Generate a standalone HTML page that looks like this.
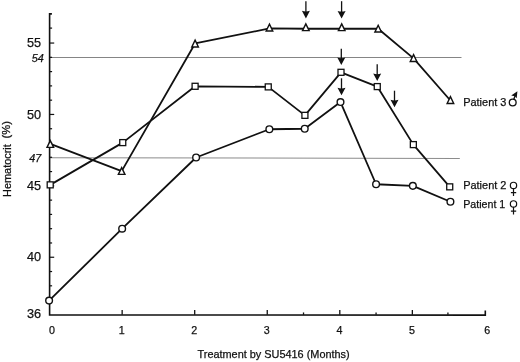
<!DOCTYPE html><html><head><meta charset="utf-8"><title>Hematocrit</title>
<style>html,body{margin:0;padding:0;background:#fff}svg{display:block}text{font-family:"Liberation Sans",sans-serif;fill:#111;stroke:#111;stroke-width:0.25px}</style></head><body>
<svg width="520" height="362" viewBox="0 0 520 362">
<rect width="520" height="362" fill="#fff"/>
<line x1="49.6" y1="57.4" x2="461.5" y2="57.55" stroke="#858585" stroke-width="1.05"/>
<line x1="49.6" y1="157.75" x2="459.8" y2="158.4" stroke="#8c8c8c" stroke-width="1.05"/>
<path d="M51.9 13.9H49.6V314.85L485.3 315.15V310.4" fill="none" stroke="#111" stroke-width="1.6"/>
<line x1="49.6" y1="300.09" x2="52.1" y2="300.09" stroke="#111" stroke-width="1.2"/>
<line x1="49.6" y1="285.81" x2="52.1" y2="285.81" stroke="#111" stroke-width="1.2"/>
<line x1="49.6" y1="271.53" x2="52.1" y2="271.53" stroke="#111" stroke-width="1.2"/>
<line x1="49.6" y1="257.25" x2="54.2" y2="257.25" stroke="#111" stroke-width="1.2"/>
<line x1="49.6" y1="242.97" x2="52.1" y2="242.97" stroke="#111" stroke-width="1.2"/>
<line x1="49.6" y1="228.69" x2="52.1" y2="228.69" stroke="#111" stroke-width="1.2"/>
<line x1="49.6" y1="214.41" x2="52.1" y2="214.41" stroke="#111" stroke-width="1.2"/>
<line x1="49.6" y1="200.13" x2="52.1" y2="200.13" stroke="#111" stroke-width="1.2"/>
<line x1="49.6" y1="185.85" x2="54.2" y2="185.85" stroke="#111" stroke-width="1.2"/>
<line x1="49.6" y1="171.57" x2="52.1" y2="171.57" stroke="#111" stroke-width="1.2"/>
<line x1="49.6" y1="157.29" x2="52.1" y2="157.29" stroke="#111" stroke-width="1.2"/>
<line x1="49.6" y1="143.01" x2="52.1" y2="143.01" stroke="#111" stroke-width="1.2"/>
<line x1="49.6" y1="128.73" x2="52.1" y2="128.73" stroke="#111" stroke-width="1.2"/>
<line x1="49.6" y1="114.45" x2="54.2" y2="114.45" stroke="#111" stroke-width="1.2"/>
<line x1="49.6" y1="100.17" x2="52.1" y2="100.17" stroke="#111" stroke-width="1.2"/>
<line x1="49.6" y1="85.89" x2="52.1" y2="85.89" stroke="#111" stroke-width="1.2"/>
<line x1="49.6" y1="71.61" x2="52.1" y2="71.61" stroke="#111" stroke-width="1.2"/>
<line x1="49.6" y1="57.33" x2="52.1" y2="57.33" stroke="#111" stroke-width="1.2"/>
<line x1="49.6" y1="43.05" x2="54.2" y2="43.05" stroke="#111" stroke-width="1.2"/>
<line x1="49.6" y1="28.1" x2="52.1" y2="28.1" stroke="#111" stroke-width="1.2"/>
<line x1="122.15" y1="314.85" x2="122.15" y2="310.05" stroke="#111" stroke-width="1.3"/>
<line x1="194.7" y1="314.85" x2="194.7" y2="310.05" stroke="#111" stroke-width="1.3"/>
<line x1="267.25" y1="314.85" x2="267.25" y2="310.05" stroke="#111" stroke-width="1.3"/>
<line x1="303.52" y1="314.85" x2="303.52" y2="312.45" stroke="#111" stroke-width="1.3"/>
<line x1="339.8" y1="314.85" x2="339.8" y2="310.05" stroke="#111" stroke-width="1.3"/>
<line x1="376.07" y1="314.85" x2="376.07" y2="312.45" stroke="#111" stroke-width="1.3"/>
<line x1="412.35" y1="314.85" x2="412.35" y2="310.05" stroke="#111" stroke-width="1.3"/>
<line x1="447.92" y1="314.85" x2="447.92" y2="312.45" stroke="#111" stroke-width="1.3"/>
<polyline points="50.3,143.81 121.65,171.17 195.1,43.45 269.45,28.47 305.82,28.77 341.7,28.77 378.17,28.77 413.55,58.33 450.42,100.47" fill="none" stroke="#111" stroke-width="1.8" stroke-linejoin="round"/>
<polyline points="50.2,184.85 122.75,142.61 195.1,86.29 268.25,86.89 304.92,115.35 341.0,72.31 377.27,86.59 413.35,144.61 449.72,186.85" fill="none" stroke="#111" stroke-width="1.8" stroke-linejoin="round"/>
<polyline points="49.1,300.59 122.15,228.69 196.1,157.49 269.35,129.23 304.72,128.73 340.5,102.07 376.07,184.25 412.85,185.85 450.42,201.73" fill="none" stroke="#111" stroke-width="1.8" stroke-linejoin="round"/>
<path d="M50.3 140.61L53.6 147.41H47.0Z" fill="#fff" stroke="#111" stroke-width="1.4"/>
<path d="M121.65 167.57L124.95 174.37H118.35Z" fill="#fff" stroke="#111" stroke-width="1.4"/>
<path d="M195.1 40.15L198.4 46.95H191.8Z" fill="#fff" stroke="#111" stroke-width="1.4"/>
<path d="M269.45 24.17L272.75 30.97H266.15Z" fill="#fff" stroke="#111" stroke-width="1.4"/>
<path d="M305.82 23.87L309.12 30.67H302.52Z" fill="#fff" stroke="#111" stroke-width="1.4"/>
<path d="M341.7 23.87L345.0 30.67H338.4Z" fill="#fff" stroke="#111" stroke-width="1.4"/>
<path d="M378.17 25.27L381.47 32.07H374.87Z" fill="#fff" stroke="#111" stroke-width="1.4"/>
<path d="M413.55 54.63L416.85 61.43H410.25Z" fill="#fff" stroke="#111" stroke-width="1.4"/>
<path d="M450.42 96.67L453.72 103.47H447.12Z" fill="#fff" stroke="#111" stroke-width="1.4"/>
<rect x="47.2" y="181.85" width="6" height="6" fill="#fff" stroke="#111" stroke-width="1.3"/>
<rect x="119.75" y="139.61" width="6" height="6" fill="#fff" stroke="#111" stroke-width="1.3"/>
<rect x="192.1" y="83.29" width="6" height="6" fill="#fff" stroke="#111" stroke-width="1.3"/>
<rect x="265.25" y="83.89" width="6" height="6" fill="#fff" stroke="#111" stroke-width="1.3"/>
<rect x="301.92" y="112.35" width="6" height="6" fill="#fff" stroke="#111" stroke-width="1.3"/>
<rect x="338.0" y="69.31" width="6" height="6" fill="#fff" stroke="#111" stroke-width="1.3"/>
<rect x="374.27" y="83.59" width="6" height="6" fill="#fff" stroke="#111" stroke-width="1.3"/>
<rect x="410.35" y="141.61" width="6" height="6" fill="#fff" stroke="#111" stroke-width="1.3"/>
<rect x="446.72" y="183.85" width="6" height="6" fill="#fff" stroke="#111" stroke-width="1.3"/>
<circle cx="49.1" cy="300.59" r="3.35" fill="#fff" stroke="#111" stroke-width="1.4"/>
<circle cx="122.15" cy="228.69" r="3.35" fill="#fff" stroke="#111" stroke-width="1.4"/>
<circle cx="196.1" cy="157.49" r="3.35" fill="#fff" stroke="#111" stroke-width="1.4"/>
<circle cx="269.35" cy="129.23" r="3.35" fill="#fff" stroke="#111" stroke-width="1.4"/>
<circle cx="304.72" cy="128.73" r="3.35" fill="#fff" stroke="#111" stroke-width="1.4"/>
<circle cx="340.5" cy="102.07" r="3.35" fill="#fff" stroke="#111" stroke-width="1.4"/>
<circle cx="376.07" cy="184.25" r="3.35" fill="#fff" stroke="#111" stroke-width="1.4"/>
<circle cx="412.85" cy="185.85" r="3.35" fill="#fff" stroke="#111" stroke-width="1.4"/>
<circle cx="450.42" cy="201.73" r="3.35" fill="#fff" stroke="#111" stroke-width="1.4"/>
<path d="M305.9 1.2V13.100000000000001" stroke="#111" stroke-width="1.3" fill="none"/>
<path d="M301.9 10.8L305.9 18.4L309.9 10.8Q305.9 12.2 301.9 10.8Z" fill="#111"/>
<path d="M341.6 1.2V13.2" stroke="#111" stroke-width="1.3" fill="none"/>
<path d="M337.6 10.9L341.6 18.5L345.6 10.9Q341.6 12.3 337.6 10.9Z" fill="#111"/>
<path d="M341.3 48.7V59.8" stroke="#111" stroke-width="1.3" fill="none"/>
<path d="M337.3 57.5L341.3 65.1L345.3 57.5Q341.3 58.9 337.3 57.5Z" fill="#111"/>
<path d="M341.5 78.3V90" stroke="#111" stroke-width="1.3" fill="none"/>
<path d="M337.5 87.7L341.5 95.3L345.5 87.7Q341.5 89.1 337.5 87.7Z" fill="#111"/>
<path d="M377.2 64.3V75.8" stroke="#111" stroke-width="1.3" fill="none"/>
<path d="M373.2 73.5L377.2 81.1L381.2 73.5Q377.2 74.9 373.2 73.5Z" fill="#111"/>
<path d="M394.5 90.7V102" stroke="#111" stroke-width="1.3" fill="none"/>
<path d="M390.5 99.7L394.5 107.3L398.5 99.7Q394.5 101.1 390.5 99.7Z" fill="#111"/>
<text x="41.1" y="47.4" font-size="12.7" text-anchor="end">55</text>
<text x="41.1" y="119.1" font-size="12.7" text-anchor="end">50</text>
<text x="41.1" y="190.2" font-size="12.7" text-anchor="end">45</text>
<text x="41.1" y="261.2" font-size="12.7" text-anchor="end">40</text>
<text x="41.1" y="317.8" font-size="12.7" text-anchor="end">36</text>
<text x="43.8" y="62" font-size="10.8" font-style="italic" text-anchor="end">54</text>
<text x="41.2" y="162.3" font-size="10.8" font-style="italic" text-anchor="end">47</text>
<text x="51.9" y="333.7" font-size="10.7" text-anchor="middle">0</text>
<text x="121.75" y="333.7" font-size="10.7" text-anchor="middle">1</text>
<text x="194.3" y="333.7" font-size="10.7" text-anchor="middle">2</text>
<text x="266.85" y="333.7" font-size="10.7" text-anchor="middle">3</text>
<text x="339.4" y="333.7" font-size="10.7" text-anchor="middle">4</text>
<text x="411.95" y="333.7" font-size="10.7" text-anchor="middle">5</text>
<text x="487.2" y="333.7" font-size="10.7" text-anchor="middle">6</text>
<text x="197.5" y="358.3" font-size="10.95" textLength="152.2" lengthAdjust="spacingAndGlyphs">Treatment by SU5416 (Months)</text>
<text transform="translate(10.6,197) rotate(-90)" font-size="11" textLength="52.8" lengthAdjust="spacingAndGlyphs">Hematocrit</text>
<text transform="translate(10.4,138.4) rotate(-90)" font-size="11" textLength="17.3" lengthAdjust="spacingAndGlyphs">(%)</text>
<text x="463.2" y="105.7" font-size="11.4" textLength="43.199999999999996" lengthAdjust="spacingAndGlyphs">Patient 3</text>
<text x="463.2" y="189.4" font-size="11.4" textLength="43.199999999999996" lengthAdjust="spacingAndGlyphs">Patient 2</text>
<text x="463.2" y="207.7" font-size="11.4" textLength="42.1" lengthAdjust="spacingAndGlyphs">Patient 1</text>
<g fill="none" stroke="#111" stroke-width="1.35"><circle cx="512.7" cy="102.5" r="3.4"/><path d="M513.7 99.4L515.2 95.6"/></g><path d="M517.4 91.3L516.7 98.3L514.9 96.2L511.2 95.4Z" fill="#111"/>
<g fill="none" stroke="#111" stroke-width="1.2"><circle cx="513.5" cy="185.4" r="3.15"/><path d="M513.5 188.6V196.0M510.9 192.6H516.2"/></g>
<g fill="none" stroke="#111" stroke-width="1.2"><circle cx="513.5" cy="203.9" r="3.15"/><path d="M513.5 207.1V214.5M510.9 211.1H516.2"/></g>
</svg></body></html>
